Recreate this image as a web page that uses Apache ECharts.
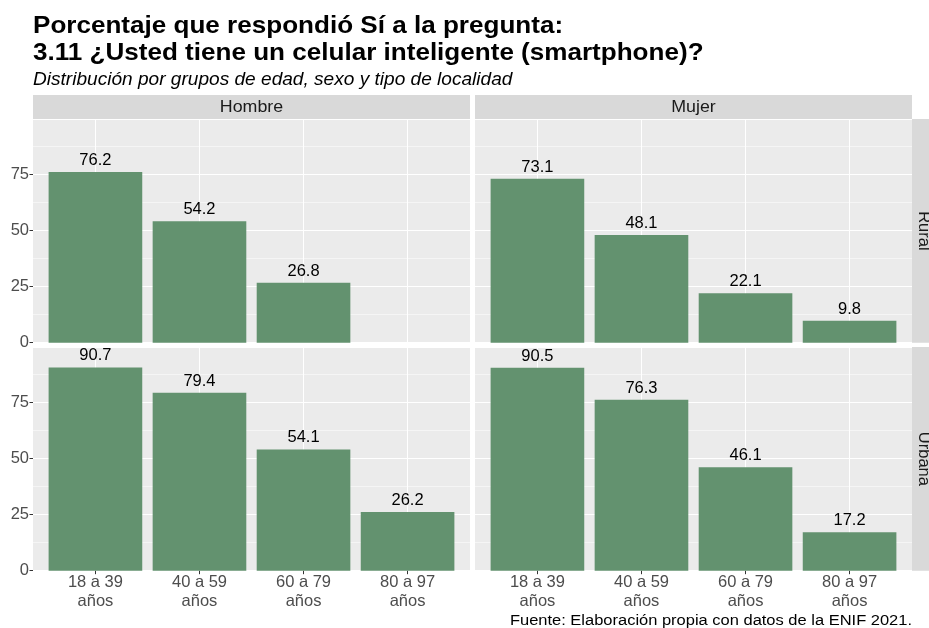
<!DOCTYPE html>
<html>
<head>
<meta charset="utf-8">
<script src="https://cdn.jsdelivr.net/npm/echarts@6/dist/echarts.min.js"></script>
<style>
  html, body { margin: 0; padding: 0; background: #fff; }
  #chart { width: 929px; height: 628px; }
</style>
</head>
<body>
<div id="chart"></div>
<script>
// datos
const ageGroups = ['18 a 39\naños', '40 a 59\naños', '60 a 79\naños', '80 a 97\naños']
const sexes = ['Hombre', 'Mujer']
const localities = ['Rural', 'Urbana']
const hombreRural = [76.2, 54.2, 26.8, null]
const mujerRural = [73.1, 48.1, 22.1, 9.8]
const hombreUrbana = [90.7, 79.4, 54.1, 26.2]
const mujerUrbana = [90.5, 76.3, 46.1, 17.2]
const yTicks = [0, 25, 50, 75]
const yMax = 99.8

const panelData = [
  [hombreRural, mujerRural],
  [hombreUrbana, mujerUrbana]
]

// layout de paneles (estilo facet_grid)
const colX = [33, 475]
const rowY = [119, 347]
const panelW = 437
const panelH = 223.7
const band = panelW / 4.2
const barColor = '#63926F'
const font = 'Liberation Sans, Arial, sans-serif'

const grids = []
const xAxes = []
const yAxes = []
const series = []
const graphics = []

localities.forEach((loc, r) => {
  sexes.forEach((sex, c) => {
    const idx = r * 2 + c
    // fondo del panel + líneas horizontales
    grids.push({
      left: colX[c], top: rowY[r], width: panelW, height: panelH,
      show: true, backgroundColor: '#EBEBEB', borderWidth: 0
    })
    xAxes.push({ type: 'value', gridIndex: 2 * idx, show: false, min: 0, max: 1 })
    yAxes.push({
      type: 'value', gridIndex: 2 * idx, min: 0, max: yMax,
      interval: yTicks[1] - yTicks[0],
      axisLine: { show: false },
      axisTick: { show: c === 0, length: 3.5, lineStyle: { color: '#333333', width: 1 } },
      axisLabel: {
        show: c === 0, margin: 4, color: '#4D4D4D', fontSize: 16.5, fontFamily: font,
        showMaxLabel: false
      },
      splitLine: { show: true, lineStyle: { color: '#FFFFFF', width: 1.1 } },
      minorTick: { show: false, splitNumber: 2 },
      minorSplitLine: { show: true, lineStyle: { color: '#FFFFFF', width: 0.5 } }
    })
    // grid de barras (centros de categoría)
    grids.push({
      left: colX[c] + 0.6 * band, top: rowY[r], width: 3 * band, height: panelH,
      show: false
    })
    xAxes.push({
      type: 'category', gridIndex: 2 * idx + 1, data: ageGroups, boundaryGap: false,
      axisLine: { show: false },
      axisTick: { show: r === 1, length: 3.5, lineStyle: { color: '#333333', width: 1 } },
      axisLabel: {
        show: r === 1, margin: 2.5, color: '#4D4D4D', fontSize: 16.5, lineHeight: 19,
        fontFamily: font, interval: 0
      },
      splitLine: { show: true, lineStyle: { color: '#FFFFFF', width: 1.1 } }
    })
    yAxes.push({ type: 'value', gridIndex: 2 * idx + 1, min: 0, max: yMax, show: false })
    series.push({
      type: 'bar',
      xAxisIndex: 2 * idx + 1,
      yAxisIndex: 2 * idx + 1,
      data: panelData[r][c],
      barWidth: band * 0.9,
      clip: false,
      itemStyle: { color: barColor },
      label: {
        show: true, position: 'top', distance: 3, color: '#000', fontSize: 16.5, fontFamily: font,
        formatter: p => p.value == null ? '' : Number(p.value).toFixed(1)
      }
    })
    // tiras de facetas
    if (r === 0) {
      graphics.push({
        type: 'rect', shape: { x: colX[c], y: 95, width: panelW, height: 24 },
        style: { fill: '#D9D9D9' }
      })
      graphics.push({
        type: 'text', x: colX[c] + panelW / 2, y: 107.5, scaleX: 1.08,
        style: { text: sex, fill: '#1A1A1A', fontSize: 16.5, fontFamily: font, align: 'center', verticalAlign: 'middle' }
      })
    }
    if (c === 1) {
      graphics.push({
        type: 'rect', shape: { x: 912, y: rowY[r], width: 24, height: panelH },
        style: { fill: '#D9D9D9' }
      })
      graphics.push({
        type: 'text', x: 924, y: rowY[r] + panelH / 2, rotation: -Math.PI / 2,
        style: { text: loc, fill: '#1A1A1A', fontSize: 16.5, fontFamily: font, align: 'center', verticalAlign: 'middle' }
      })
    }
  })
})

// títulos
graphics.push({
  type: 'text', x: 33, y: 12.5, scaleX: 1.086,
  style: {
    text: 'Porcentaje que respondió Sí a la pregunta:\n3.11 ¿Usted tiene un celular inteligente (smartphone)?',
    fill: '#000', fontSize: 24, fontWeight: 'bold', fontFamily: font, lineHeight: 27.5,
    align: 'left', verticalAlign: 'top'
  }
})
graphics.push({
  type: 'text', x: 33, y: 80, scaleX: 1.06,
  style: {
    text: 'Distribución por grupos de edad, sexo y tipo de localidad',
    fill: '#000', fontSize: 18, fontStyle: 'italic', fontFamily: font,
    align: 'left', verticalAlign: 'middle'
  }
})
graphics.push({
  type: 'text', x: 912, y: 620.5, scaleX: 1.063,
  style: {
    text: 'Fuente: Elaboración propia con datos de la ENIF 2021.',
    fill: '#000', fontSize: 15.5, fontFamily: font,
    align: 'right', verticalAlign: 'middle'
  }
})

const chart = echarts.init(document.getElementById('chart'))
chart.setOption({
  animation: false,
  backgroundColor: '#FFFFFF',
  grid: grids,
  xAxis: xAxes,
  yAxis: yAxes,
  series: series,
  graphic: graphics
})
</script>
</body>
</html>
